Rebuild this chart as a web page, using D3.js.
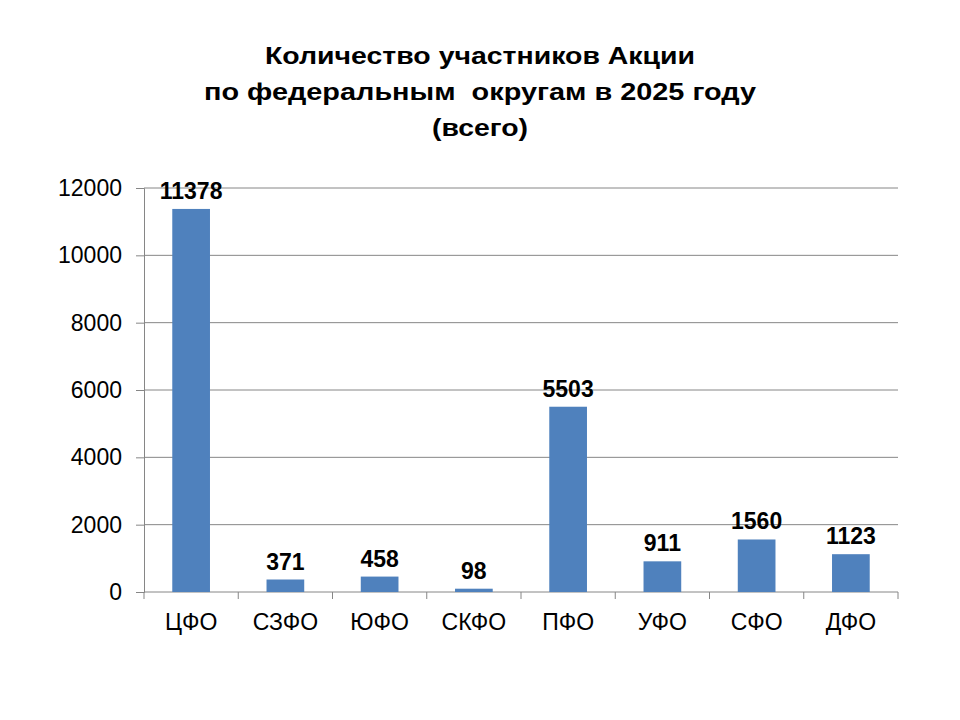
<!DOCTYPE html>
<html>
<head>
<meta charset="utf-8">
<script src="https://cdn.jsdelivr.net/npm/d3@7"></script>
<style>
  body { margin: 0; background: #fff; }
  text { font-family: "Liberation Sans", Arial, sans-serif; }
</style>
</head>
<body>
<div id="chart"></div>
<script>
// Количество участников по федеральным округам
const districts = ['ЦФО', 'СЗФО', 'ЮФО', 'СКФО', 'ПФО', 'УФО', 'СФО', 'ДФО'];
const participants = [11378, 371, 458, 98, 5503, 911, 1560, 1123];
const yTicks = [0, 2000, 4000, 6000, 8000, 10000, 12000];
const titleLines = ['Количество участников Акции', 'по федеральным  округам в 2025 году', '(всего)'];
const titleWidths = [430, 552, 96];

const width = 960, height = 720;
const margin = { top: 188, right: 62, bottom: 128, left: 144 };

const svg = d3.select('#chart')
    .append('svg')
    .attr('width', width)
    .attr('height', height);

const x = d3.scaleBand()
    .domain(districts)
    .range([margin.left, width - margin.right])
    .paddingInner(0.6)
    .paddingOuter(0.3);

const y = d3.scaleLinear()
    .domain([0, 12000])
    .range([height - margin.bottom, margin.top]);

// title (stretched a bit wider, like the slide)
svg.append('g')
    .selectAll('text')
    .data(titleLines)
    .enter().append('text')
    .attr('x', 480)
    .attr('y', (d, i) => 64 + i * 36)
    .attr('text-anchor', 'middle')
    .attr('textLength', (d, i) => titleWidths[i])
    .attr('lengthAdjust', 'spacingAndGlyphs')
    .style('font-size', '24px')
    .style('font-weight', 'bold')
    .style('white-space', 'pre')
    .text(d => d);

// gridlines
svg.append('g')
    .selectAll('line')
    .data(yTicks.slice(1))
    .enter().append('line')
    .attr('x1', margin.left)
    .attr('x2', width - margin.right)
    .attr('y1', d => y(d))
    .attr('y2', d => y(d))
    .style('stroke', '#868686')
    .style('stroke-width', 1);

// y axis
const yAxis = svg.append('g')
    .attr('transform', `translate(${margin.left},0)`)
    .call(d3.axisLeft(y).tickValues(yTicks).tickSize(8).tickPadding(14).tickFormat(d3.format('d')));
yAxis.selectAll('path, line').style('stroke', '#868686');
yAxis.selectAll('text').style('font-size', '23px').style('fill', '#000')
    .style('font-family', '"Liberation Sans", Arial, sans-serif');

// x axis
const boundaries = d3.range(districts.length + 1)
    .map(i => margin.left + i * (width - margin.right - margin.left) / districts.length);
const xAxis = svg.append('g');
xAxis.append('line')
    .attr('x1', margin.left).attr('x2', width - margin.right)
    .attr('y1', y(0)).attr('y2', y(0))
    .style('stroke', '#868686');
xAxis.selectAll('.tick')
    .data(boundaries)
    .enter().append('line')
    .attr('x1', d => d).attr('x2', d => d)
    .attr('y1', y(0)).attr('y2', y(0) + 7)
    .style('stroke', '#868686');
xAxis.selectAll('text')
    .data(districts)
    .enter().append('text')
    .attr('x', d => x(d) + x.bandwidth() / 2)
    .attr('y', y(0) + 38)
    .attr('text-anchor', 'middle')
    .style('font-size', '23px')
    .text(d => d);

// bars
svg.append('g')
    .selectAll('rect')
    .data(districts)
    .enter().append('rect')
    .attr('x', d => x(d))
    .attr('width', x.bandwidth())
    .attr('y', (d, i) => y(participants[i]))
    .attr('height', (d, i) => y(0) - y(participants[i]))
    .style('fill', '#4f81bd');

// value labels
svg.append('g')
    .selectAll('text')
    .data(districts)
    .enter().append('text')
    .attr('x', d => x(d) + x.bandwidth() / 2)
    .attr('y', (d, i) => y(participants[i]) - 10)
    .attr('text-anchor', 'middle')
    .style('font-size', '23px')
    .style('font-weight', 'bold')
    .text((d, i) => participants[i]);
</script>
</body>
</html>
